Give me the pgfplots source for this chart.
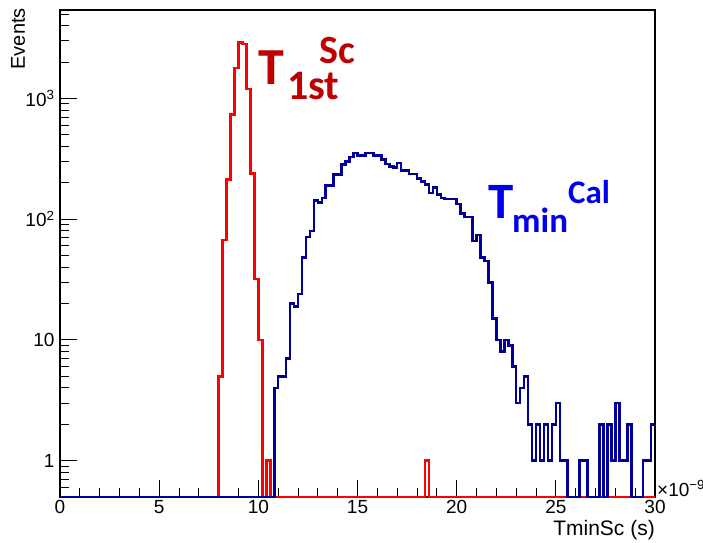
\documentclass[border=0pt]{standalone}
\usepackage{fontspec}
\setmainfont{Liberation Sans}
\newfontfamily\calib{Carlito}
\usepackage{pgfplots}
\usepackage{pgfplotstable}
\pgfplotsset{compat=1.18}
\definecolor{histblue}{RGB}{0,0,153}
\definecolor{histred}{RGB}{255,0,0}
\definecolor{txtred}{RGB}{192,0,0}
\definecolor{txtblue}{RGB}{0,0,240}

% bin left edge (ns), entries ; zero bins are drawn at the axis floor 0.5
\pgfplotstableread{
t n
0 0.5
8.0 5
8.2 67
8.4 213
8.6 736
8.8 1790
9.0 2920
9.2 2830
9.4 1200
9.6 239
9.8 32
10.0 10
10.2 0.5
10.4 1
10.6 0.5
18.4 1
18.6 0.5
30 0.5
}\redtab

\pgfplotstableread{
t n
0 0.5
10.8 4
11.0 5
11.2 5
11.4 7
11.6 20
11.8 19
12.0 24
12.2 48
12.4 71
12.6 80
12.8 143
13.0 138
13.2 150
13.4 191
13.6 191
13.8 234
14.0 234
14.2 283
14.4 302
14.6 328
14.8 354
15.0 338
15.2 338
15.4 354
15.6 354
15.8 337
16.0 337
16.2 312
16.4 287
16.6 274
16.8 269
17.0 293
17.2 253
17.4 253
17.6 237
17.8 237
18.0 216
18.2 206
18.4 194
18.6 165
18.8 184
19.0 160
19.2 150
19.4 147
19.6 147
19.8 147
20.0 134
20.2 112
20.4 104
20.6 104
20.8 66
21.0 74
21.2 48
21.4 45
21.6 30
21.8 15
22.0 10
22.2 8
22.4 10
22.6 9
22.8 6
23.0 3
23.2 4
23.4 5
23.6 2
23.8 1
24.0 2
24.2 1
24.4 2
24.6 1
24.8 2
25.0 3
25.2 1
25.4 1
25.6 0.5
25.8 0.5
26.0 0.5
26.2 1
26.4 1
26.6 0.5
26.8 0.5
27.0 0.5
27.2 2
27.4 0.5
27.6 2
27.8 1
28.0 3
28.2 1
28.4 1
28.6 2
28.8 0.5
29.0 0.5
29.2 0.5
29.4 1
29.6 1
29.8 2
30 2
}\bluetab

\begin{document}
\begin{tikzpicture}[x=1pt,y=1pt]
\useasboundingbox (-60,-45) rectangle (643,497);
\begin{axis}[
  at={(0,0)}, anchor=south west,
  width=595pt, height=487pt, scale only axis,
  ymode=log, log basis y=10,
  xmin=0, xmax=30, ymin=0.5, ymax=5400,
  xtick={0,5,...,30}, xticklabels={0,5,10,15,20,25,30},
  minor xtick={1,2,3,4,6,7,8,9,11,12,13,14,16,17,18,19,21,22,23,24,26,27,28,29},
  ytick={1,10,100,1000},
  yticklabels={1,10,10\textsuperscript{2},10\textsuperscript{3}},
  minor ytick={0.6,0.7,0.8,0.9,2,3,4,5,6,7,8,9,20,30,40,50,60,70,80,90,200,300,400,500,600,700,800,900,2000,3000,4000,5000},
  tick align=inside, tick pos=left,
  major tick length=17pt, minor tick length=9pt,
  every tick/.style={black, line width=1pt},
  axis line style={black, line width=1.3pt},
  ticklabel style={font=\fontsize{19}{22}\selectfont},
  yticklabel style={xshift=-2pt},
  clip=false,
  enlargelimits=false,
]
\addplot[const plot mark left, histred, line width=2.6pt] table[x=t, y=n] {\redtab};
\addplot[const plot mark left, histblue, line width=2.6pt] table[x=t, y=n] {\bluetab};
\end{axis}
% annotations
\node[anchor=base west, inner sep=0, text=txtred, font=\calib\bfseries\fontsize{52}{52}\selectfont] at (198,412) {T};
\node[anchor=base west, inner sep=0, text=txtred, font=\calib\bfseries\fontsize{42}{42}\selectfont] at (227,398) {1st};
\node[anchor=base west, inner sep=0, text=txtred, font=\calib\bfseries\fontsize{40}{40}\selectfont] at (259,433) {Sc};
\node[anchor=base west, inner sep=0, text=txtblue, font=\calib\bfseries\fontsize{51}{51}\selectfont] at (428,279) {T};
\node[anchor=base west, inner sep=0, text=txtblue, font=\calib\bfseries\fontsize{35}{35}\selectfont] at (452,265) {min};
\node[anchor=base west, inner sep=0, text=txtblue, font=\calib\bfseries\fontsize{33}{33}\selectfont] at (508,294) {Cal};
% axis titles
\node[anchor=base east, inner sep=0, font=\fontsize{21}{24}\selectfont] at (595,-38) {TminSc (s)};
\node[rotate=90, anchor=base east, inner sep=0, font=\fontsize{20}{22}\selectfont] at (-35,489) {Events};
\node[anchor=base west, inner sep=0, font=\fontsize{19}{22}\selectfont] at (597,1) {×10\textsuperscript{−9}};
\end{tikzpicture}
\end{document}
